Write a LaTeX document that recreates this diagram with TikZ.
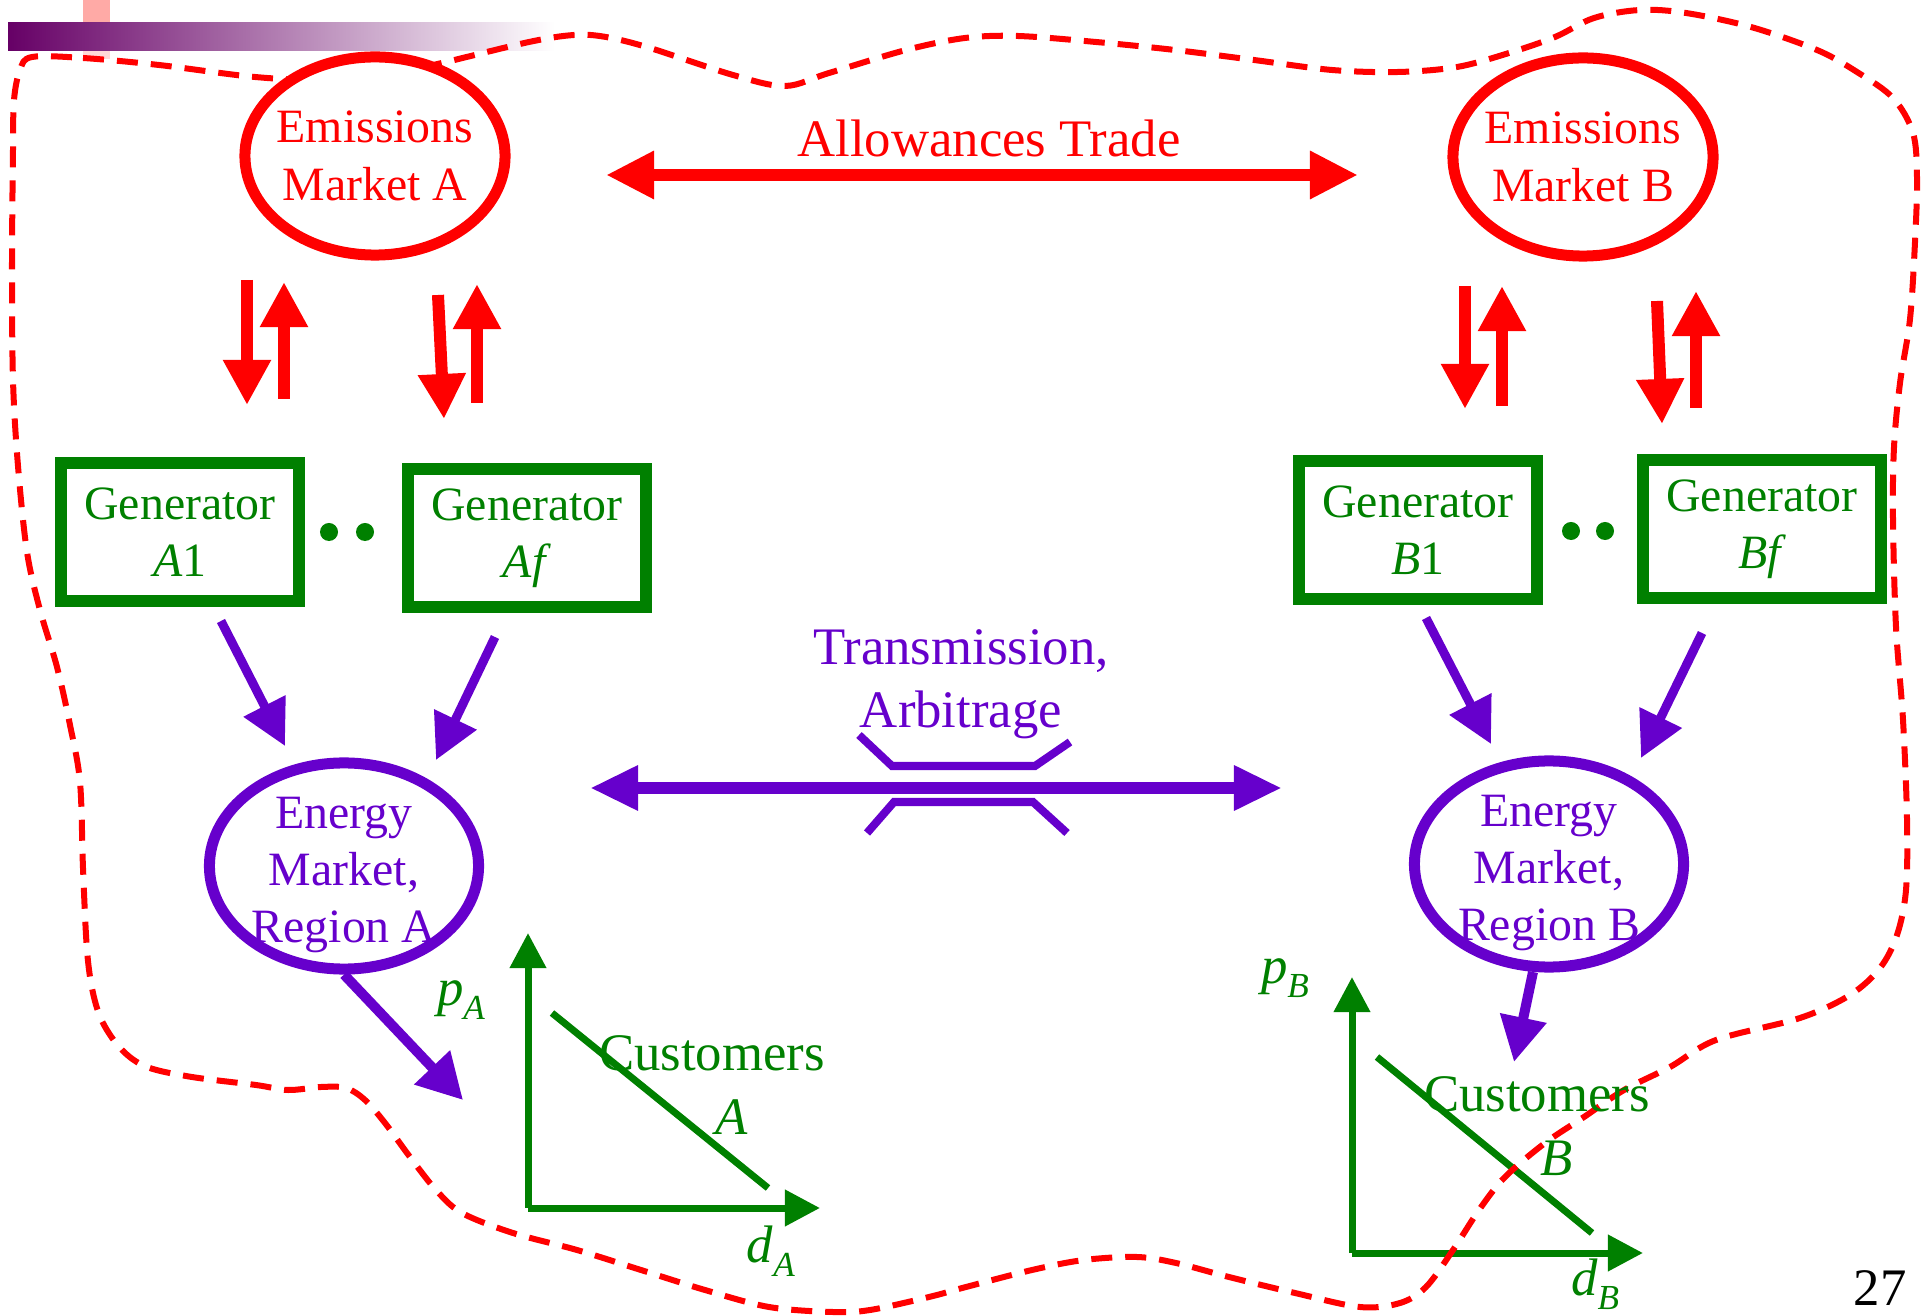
\documentclass[tikz,border=0pt]{standalone}
\usepackage{fontspec}
\setmainfont{Liberation Serif}
\usetikzlibrary{arrows.meta,shapes.geometric}
\definecolor{emred}{RGB}{255,0,0}
\definecolor{gengreen}{RGB}{0,128,0}
\definecolor{enpurple}{RGB}{102,0,204}
\definecolor{barpurple}{RGB}{102,0,102}
\definecolor{barmid}{RGB}{168,148,168}
\definecolor{tabpink}{RGB}{255,170,166}
\tikzset{
  emell/.style={ellipse,draw=emred,line width=0.11cm,fill=white,text=emred,
    minimum width=2.6cm,minimum height=1.98cm,inner sep=-0.3cm,align=center,
    font=\fontsize{13.6}{16.5}\selectfont},
  enell/.style={ellipse,draw=enpurple,line width=0.11cm,fill=white,text=enpurple,
    minimum width=2.69cm,minimum height=2.06cm,inner sep=-0.3cm,align=center,
    font=\fontsize{13.6}{16.2}\selectfont},
  genbox/.style={rectangle,draw=gengreen,line width=0.12cm,fill=white,text=gengreen,
    minimum width=2.38cm,minimum height=1.38cm,inner sep=0pt,align=center,
    font=\fontsize{13.6}{16.2}\selectfont},
  redarr/.style={-{Triangle[length=0.45cm,width=0.45cm]},line width=0.12cm,emred},
  purarr/.style={-{Triangle[length=0.45cm,width=0.45cm]},line width=0.09cm,enpurple},
  grnaxis/.style={-{Triangle[length=0.35cm,width=0.35cm]},line width=0.07cm,gengreen},
  demand/.style={line width=0.07cm,gengreen},
  bracket/.style={line width=0.08cm,enpurple},
  boundary/.style={emred,line width=0.06cm,dash pattern=on 0.21cm off 0.13cm}
}
\newcommand*{\lblfont}{\fontsize{15}{18}\selectfont}
\newcommand*{\varsub}[2]{\textit{#1}\raisebox{-4pt}{\fontsize{10}{10}\selectfont\textit{#2}}}
\newcommand*{\gendot}[1]{\fill[gengreen] (#1) circle (0.09cm)}

\begin{document}
\begin{tikzpicture}[x=0.01cm,y=-0.01cm]
\useasboundingbox (0,0) rectangle (1927,1316);

% slide decoration
\fill[tabpink] (83,0) rectangle (110,23);
\fill[tabpink!45] (83,51) rectangle (110,59);
\shade[left color=barpurple,middle color=barmid,right color=white] (8,23) rectangle (555,51);

% demand graphs
\coordinate (OA) at (528,1208);
\coordinate (OB) at (1352,1253);
\draw[grnaxis] (OA) -- ++(0,-275);
\draw[grnaxis] (OA) -- ++(292,0);
\draw[demand] (552,1013) -- (768,1188);
\draw[grnaxis] (OB) -- ++(0,-276);
\draw[grnaxis] (OB) -- ++(291,0);
\draw[demand] (1377,1057) -- (1592,1233);

% the region boundary
\draw[boundary] plot[smooth cycle,tension=0.55] coordinates {
  (32,57) (83,58) (159,65) (255,77) (330,80) (400,72) (446,62) (529,42)
  (574,35) (606,37) (650,48) (733,75) (785,86) (829,73) (906,50) (965,38)
  (1018,36) (1096,42) (1175,50) (1254,60) (1332,70) (1398,72) (1457,67)
  (1509,53) (1555,37) (1594,18) (1640,10) (1686,13) (1751,27) (1817,50)
  (1857,72) (1893,98) (1913,133) (1917,178) (1915,242) (1910,319)
  (1900,383) (1894,447) (1893,520) (1896,627) (1903,720) (1907,819)
  (1906,890) (1897,935) (1880,968) (1850,995) (1800,1018) (1716,1040)
  (1670,1067) (1624,1090) (1584,1117) (1545,1143) (1505,1177) (1479,1210)
  (1453,1250) (1426,1287) (1400,1303) (1360,1307) (1295,1293) (1229,1277)
  (1176,1263) (1137,1257) (1084,1260) (1032,1270) (966,1287) (929,1297)
  (870,1310) (833,1312) (769,1307) (705,1290) (641,1270) (577,1250)
  (513,1233) (462,1213) (436,1190) (410,1157) (385,1123) (365,1100)
  (346,1088) (321,1087) (288,1090) (256,1085) (192,1077) (147,1067)
  (122,1050) (103,1023) (93,993) (87,950) (83,868) (80,782) (70,725)
  (57,667) (40,610) (27,552) (18,466) (13,380) (12,265) (13,150)
  (14,100) (20,70)};

% markets and generators
\node[emell] (emA) at (375,156) {Emissions\\Market A};
\node[emell] (emB) at (1583,157) {Emissions\\Market B};
\node[genbox] (genAone) at (180,532) {Generator\\\textit{A}1};
\node[genbox] (genAf) at (527,538) {Generator\\\textit{Af}};
\node[genbox] (genBone) at (1418,530) {Generator\\\textit{B}1};
\node[genbox] (genBf) at (1762,529) {Generator\\\textit{Bf}};
\node[enell] (enA) at (344,866) {\rule{0pt}{14pt}Energy\\Market,\\Region A};
\node[enell] (enB) at (1549,864) {\rule{0pt}{14pt}Energy\\Market,\\Region B};
\gendot{329,532};
\gendot{365,532};
\gendot{1571,531};
\gendot{1605,531};

% allowances trade
\node[emred,font=\lblfont,anchor=base] (allow) at (989,157) {Allowances Trade};
\draw[{Triangle[length=0.48cm,width=0.45cm]}-{Triangle[length=0.48cm,width=0.45cm]},
  line width=0.12cm,emred] (606,175) coordinate (allowL) -- (1358,175) coordinate (allowR);

% emissions permits up and down
\draw[redarr] (247,280) -- (247,405);
\draw[redarr] (284,399) -- (284,282);
\draw[redarr] (438,295) -- (444,419);
\draw[redarr] (477,403) -- (477,284);
\draw[redarr] (1465,286) -- (1465,409);
\draw[redarr] (1502,406) -- (1502,286);
\draw[redarr] (1657,301) -- (1662,424);
\draw[redarr] (1696,408) -- (1696,291);

% generators sell energy
\draw[purarr] (221,621) -- (285,746);
\draw[purarr] (495,637) -- (436,760);
\draw[purarr] (1426,618) -- (1491,744);
\draw[purarr] (1702,633) -- (1641,758);

% transmission line
\node[enpurple,font=\lblfont,align=center] (trans) at (961,684)
  {Transmission,\\Arbitrage};
\draw[{Triangle[length=0.48cm,width=0.42cm]}-{Triangle[length=0.48cm,width=0.42cm]},
  line width=0.12cm,enpurple] (590,788) coordinate (transL) -- (1282,788) coordinate (transR);
\draw[bracket] (859,735) -- (892,766) -- (1035,766) -- (1070,742);
\draw[bracket] (867,833) -- (894,802) -- (1033,802) -- (1067,833);

% energy to customers
\draw[purarr,line width=0.1cm,-{Triangle[length=0.45cm,width=0.47cm]}]
  (enA.south) -- (463,1100);
\draw[purarr,line width=0.1cm,-{Triangle[length=0.45cm,width=0.45cm]}]
  (1533,972) -- (1514,1062);

% labels of the graphs
\node[gengreen,font=\lblfont,align=center] (custA) at (712,1085)
  {Customers\\\hspace*{0.4cm}\textit{A}};
\node[gengreen,font=\lblfont,align=center] (custB) at (1537,1126)
  {Customers\\\hspace*{0.4cm}\textit{B}};
\node[gengreen,font=\lblfont] (pA) at (461,1000) {\varsub{p}{A}};
\node[gengreen,font=\lblfont] (dA) at (771,1251) {\varsub{d}{A}};
\node[gengreen,font=\lblfont] (pB) at (1285,978) {\varsub{p}{B}};
\node[gengreen,font=\lblfont] (dB) at (1595,1284) {\varsub{d}{B}};

\node[font=\lblfont] (pagenum) at (1880,1288) {27};
\end{tikzpicture}
\end{document}
